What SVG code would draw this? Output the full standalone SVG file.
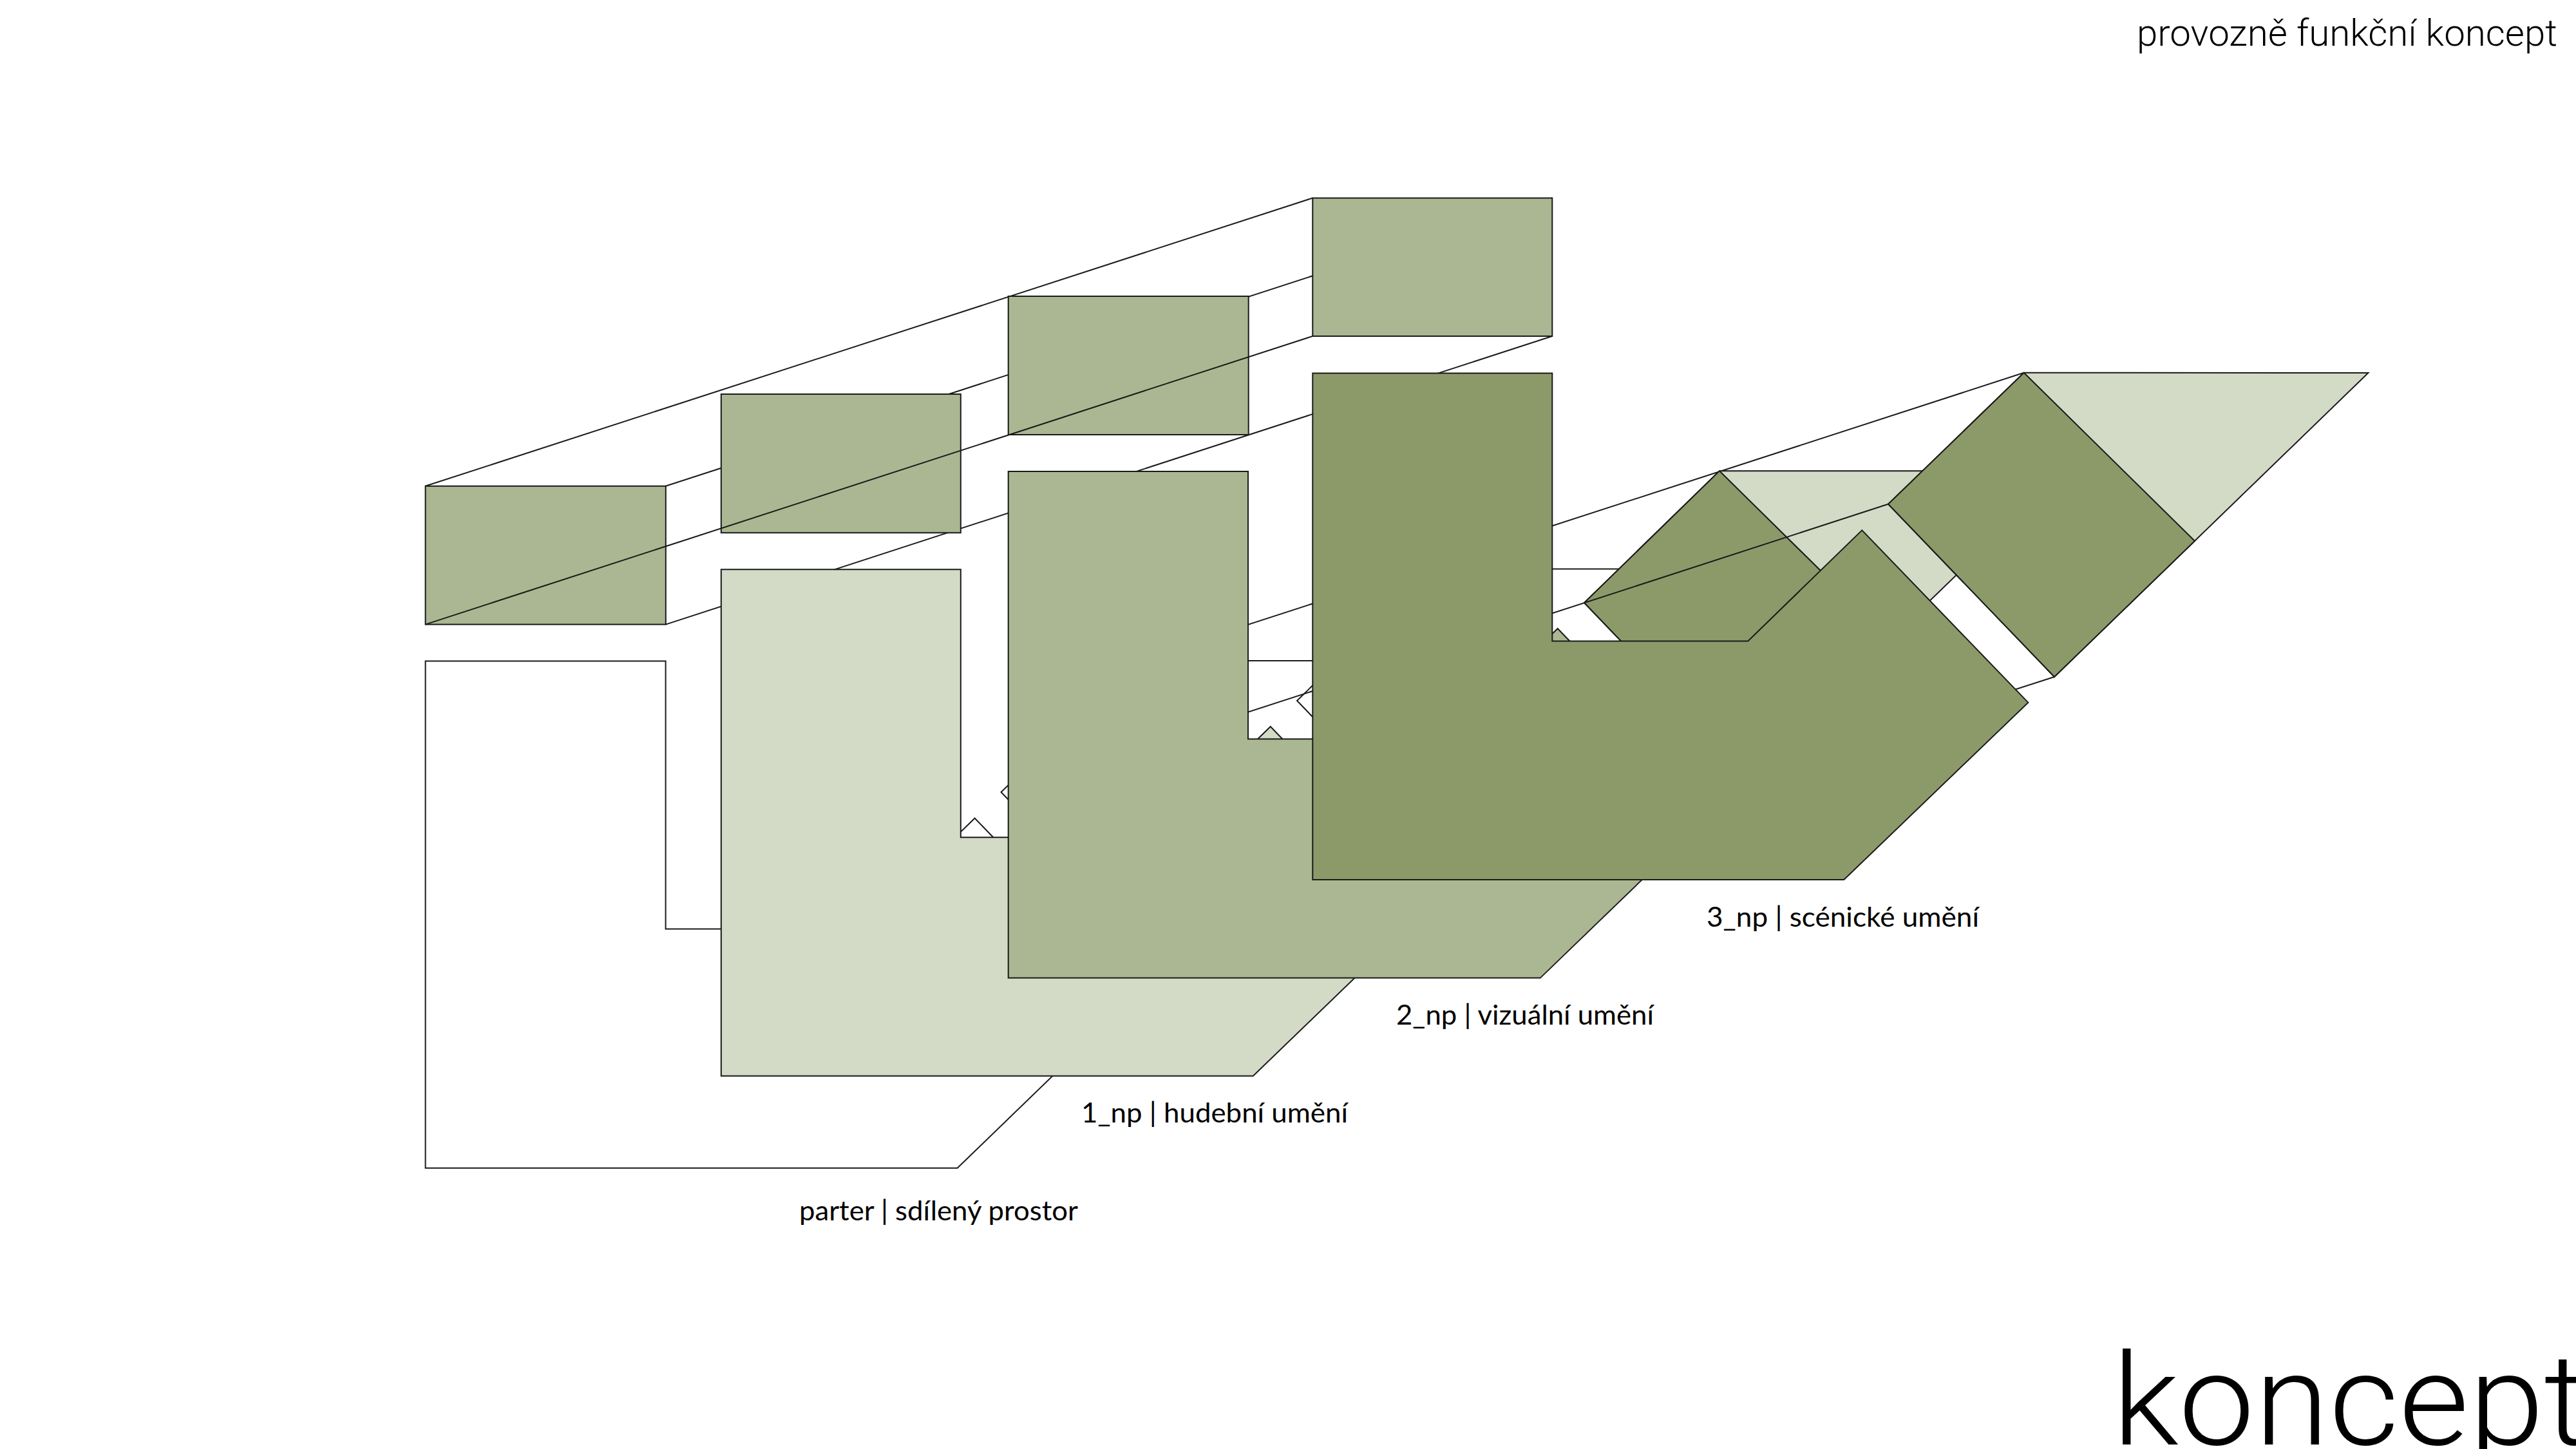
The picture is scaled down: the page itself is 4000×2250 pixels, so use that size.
<svg xmlns="http://www.w3.org/2000/svg" width="4000" height="2250" viewBox="0 0 4000 2250">
<style>
.w{fill:none;stroke:#1a1a1a;stroke-width:2;stroke-linejoin:miter}
.s{stroke:#1a1a1a;stroke-width:2;stroke-linejoin:miter}
.white{fill:#fff}.light{fill:#d3dbc6}.mid{fill:#abb792}.dark{fill:#8c9a6a}
.lab{font-family:"Lato","Noto Sans",sans-serif;font-size:42px;fill:#000}
.head{font-family:"Roboto","Liberation Sans",sans-serif;font-weight:300;fill:#000}
</style>
<rect width="4000" height="2250" fill="#fff"/>
<g id="box-wire-back">
<line class="w" x1="1033.8" y1="754.8" x2="2410.2" y2="307.5"/>
<line class="w" x1="1033.8" y1="969.6" x2="2410.2" y2="522"/>
<line class="w" x1="660.6" y1="754.8" x2="2038.3" y2="307.5"/>
</g>
<g id="level-0">
<polygon class="s white" points="660.6,1026.5 1033.6,1026.5 1033.6,1442.5 1336.6,1442.5 1513.6,1270.5 1771.6,1538 1486.6,1813.8 660.6,1813.8"/>
<polygon class="s white" points="1765,1026 2299.7,1026 1812,1498 1554.5,1230"/>
</g>
<g id="level-1-wing">
<polygon class="s white" points="2224,883.5 2758.7,883.5 2271,1355.5 2014,1088"/>
<line class="w" x1="3142.7" y1="578.8" x2="1765" y2="1026"/>
</g>
<g id="level-1">
<polygon class="s light" points="1119.8,884.2 1491.8,884.2 1491.8,1300.2 1795.8,1300.2 1972.8,1128.2 2230.8,1395.7 1945.8,1670.8 1119.8,1670.8"/>
</g>
<g id="level-2-wing">
<polygon class="s light" points="2670,731.3 3204.7,731.3 2717,1203.5 2460,936"/>
<polygon class="s dark" points="2670,731.3 2935,992.5 2717,1203.5 2460,936"/>
</g>
<g id="level-3-wing">
<polygon class="s light" points="3142.7,578.8 3677.4,579 3190,1051 2932,782.8"/>
<polygon class="s dark" points="3142.7,578.8 3408,840 3190,1051 2932,782.8"/>
</g>
<g id="wing-wire">
<line class="w" x1="2932" y1="782.8" x2="1620" y2="1209"/>
<line class="w" x1="3190" y1="1051" x2="2717" y2="1203.5"/>
</g>
<g id="level-2">
<polygon class="s mid" points="1565.7,732 1938,732 1938,1147.6 2241.7,1147.6 2418.7,976 2676.7,1243.5 2391.7,1518.6 1565.7,1518.6"/>
</g>
<g id="level-3">
<polygon class="s dark" points="2038.3,579.4 2410.3,579.4 2410.3,995.4 2714.3,995.4 2891.3,823.4 3149.3,1090.9 2863.3,1366 2038.3,1366"/>
</g>
<g id="boxes">
<rect class="s mid" x="660.6" y="754.8" width="373.2" height="214.8"/>
<rect class="s mid" x="1119.8" y="612" width="372" height="215.3"/>
<rect class="s mid" x="1565.7" y="460" width="373" height="215"/>
<rect class="s mid" x="2038.3" y="307.5" width="372" height="214.5"/>
<line class="w" x1="660.6" y1="969.6" x2="2038.3" y2="522"/>
</g>
<g id="labels">
<text class="lab" x="1241" y="1895" textLength="433" lengthAdjust="spacingAndGlyphs">parter | sdílený prostor</text>
<text class="lab" x="1679" y="1743" textLength="414" lengthAdjust="spacingAndGlyphs">1_np | hudební umění</text>
<text class="lab" x="2168" y="1591" textLength="400" lengthAdjust="spacingAndGlyphs">2_np | vizuální umění</text>
<text class="lab" x="2650" y="1439" textLength="423" lengthAdjust="spacingAndGlyphs">3_np | scénické umění</text>
</g>
<g id="headings">
<text class="head" x="3318" y="71" font-size="58" textLength="653" lengthAdjust="spacingAndGlyphs">provozně funkční koncept</text>
<text class="head" x="3280" y="2243" font-size="198" textLength="738" lengthAdjust="spacingAndGlyphs">koncept</text>
</g>
</svg>
